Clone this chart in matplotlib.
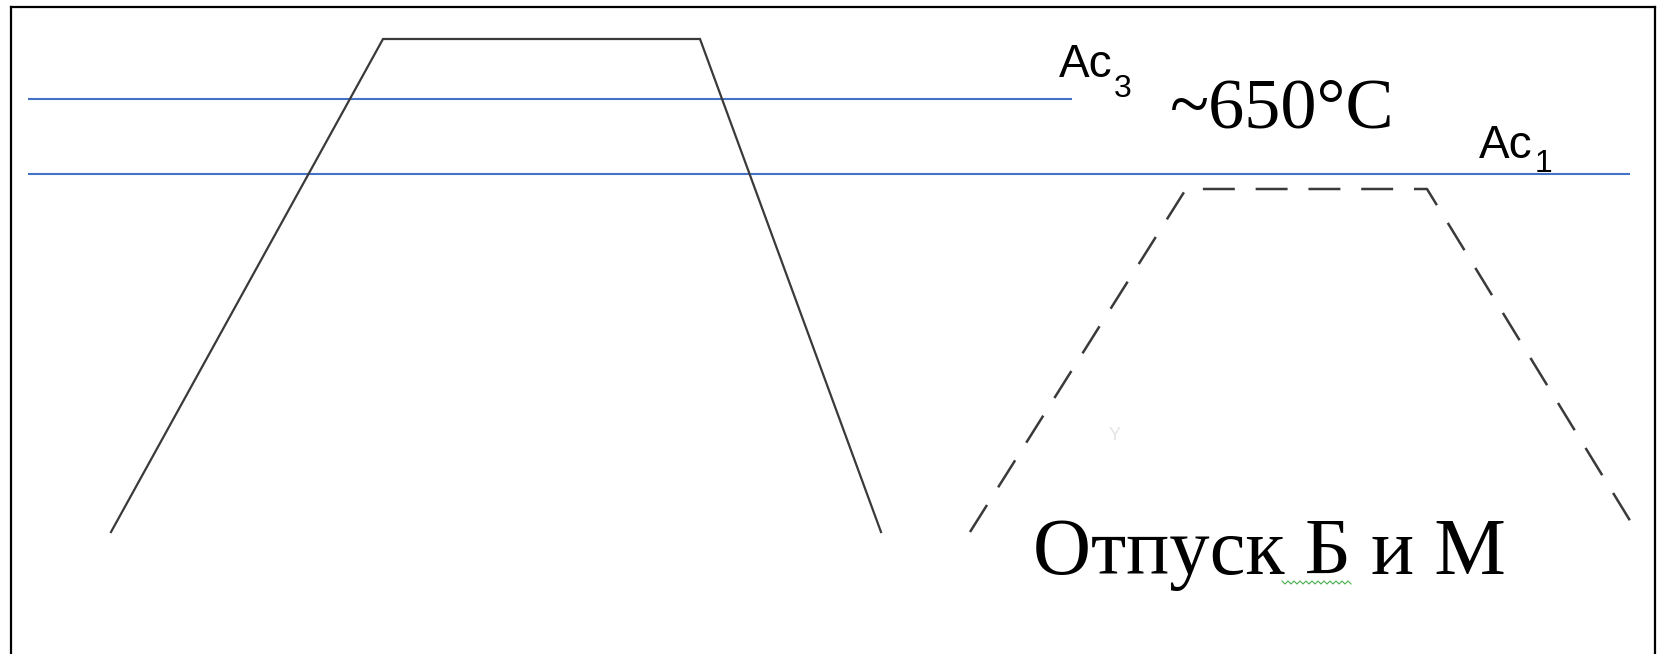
import matplotlib.pyplot as plt
import numpy as np

plt.rcParams['lines.scale_dashes'] = False

# Heat-treatment schedule (x = time, y = temperature, picture pixel units, y grows downward)
quench_time = [111, 383, 700, 881]
quench_temp = [532, 39, 39, 532]

temper_time = [970, 1186, 1427, 1637]
temper_temp = [532, 189, 189, 532]

# Critical points
ac3_level = 99
ac3_span = (28, 1072)
ac1_level = 174
ac1_span = (28, 1630)

fig = plt.figure(figsize=(16.58, 6.54), dpi=100)
ax = fig.add_axes([11 / 1658, 0, (1655 - 11) / 1658, (654 - 7) / 654])
ax.set_xlim(11, 1655)
ax.set_ylim(654, 7)
ax.set_xticks([])
ax.set_yticks([])
for side in ('left', 'top', 'right'):
    ax.spines[side].set_linewidth(1.6)
    ax.spines[side].set_color('black')
ax.spines['bottom'].set_visible(False)

# Ac3 / Ac1 lines
ax.hlines(ac3_level, *ac3_span, color='#4472C4', lw=1.5)
ax.hlines(ac1_level, *ac1_span, color='#4472C4', lw=1.5)

# quenching (solid) and tempering (dashed)
ax.plot(quench_time, quench_temp, color='#3a3a3a', lw=1.6, solid_joinstyle='miter')
ax.plot(temper_time, temper_temp, color='#3a3a3a', lw=1.8,
        linestyle=(0, (23, 15)))

sans = ['Liberation Sans', 'DejaVu Sans']
serif = ['Liberation Serif', 'DejaVu Serif']

ax.text(1059, 77, 'Ac', family=sans, fontsize=33, va='baseline', ha='left')
ax.text(1114, 97, '3', family=sans, fontsize=23, va='baseline', ha='left')
ax.text(1479, 158, 'Ac', family=sans, fontsize=33, va='baseline', ha='left')
ax.text(1535, 172, '1', family=sans, fontsize=23, va='baseline', ha='left')

ax.text(1170, 127, '~650°C', family=serif, fontsize=52, va='baseline', ha='left')
ax.text(1033, 574, 'Отпуск Б и М', family=serif, fontsize=58, va='baseline', ha='left')

# faint artefact and spell-check squiggle
ax.text(1115, 440, 'Y', family=sans, fontsize=13, color='#e4e4e4', va='baseline', ha='center')
zx = np.arange(1282, 1353, 3)
zy = np.where(np.arange(len(zx)) % 2 == 0, 581, 584)
ax.plot(zx, zy, color='#4caf50', lw=0.8)

fig.savefig('out.png', dpi=100, facecolor='white')
